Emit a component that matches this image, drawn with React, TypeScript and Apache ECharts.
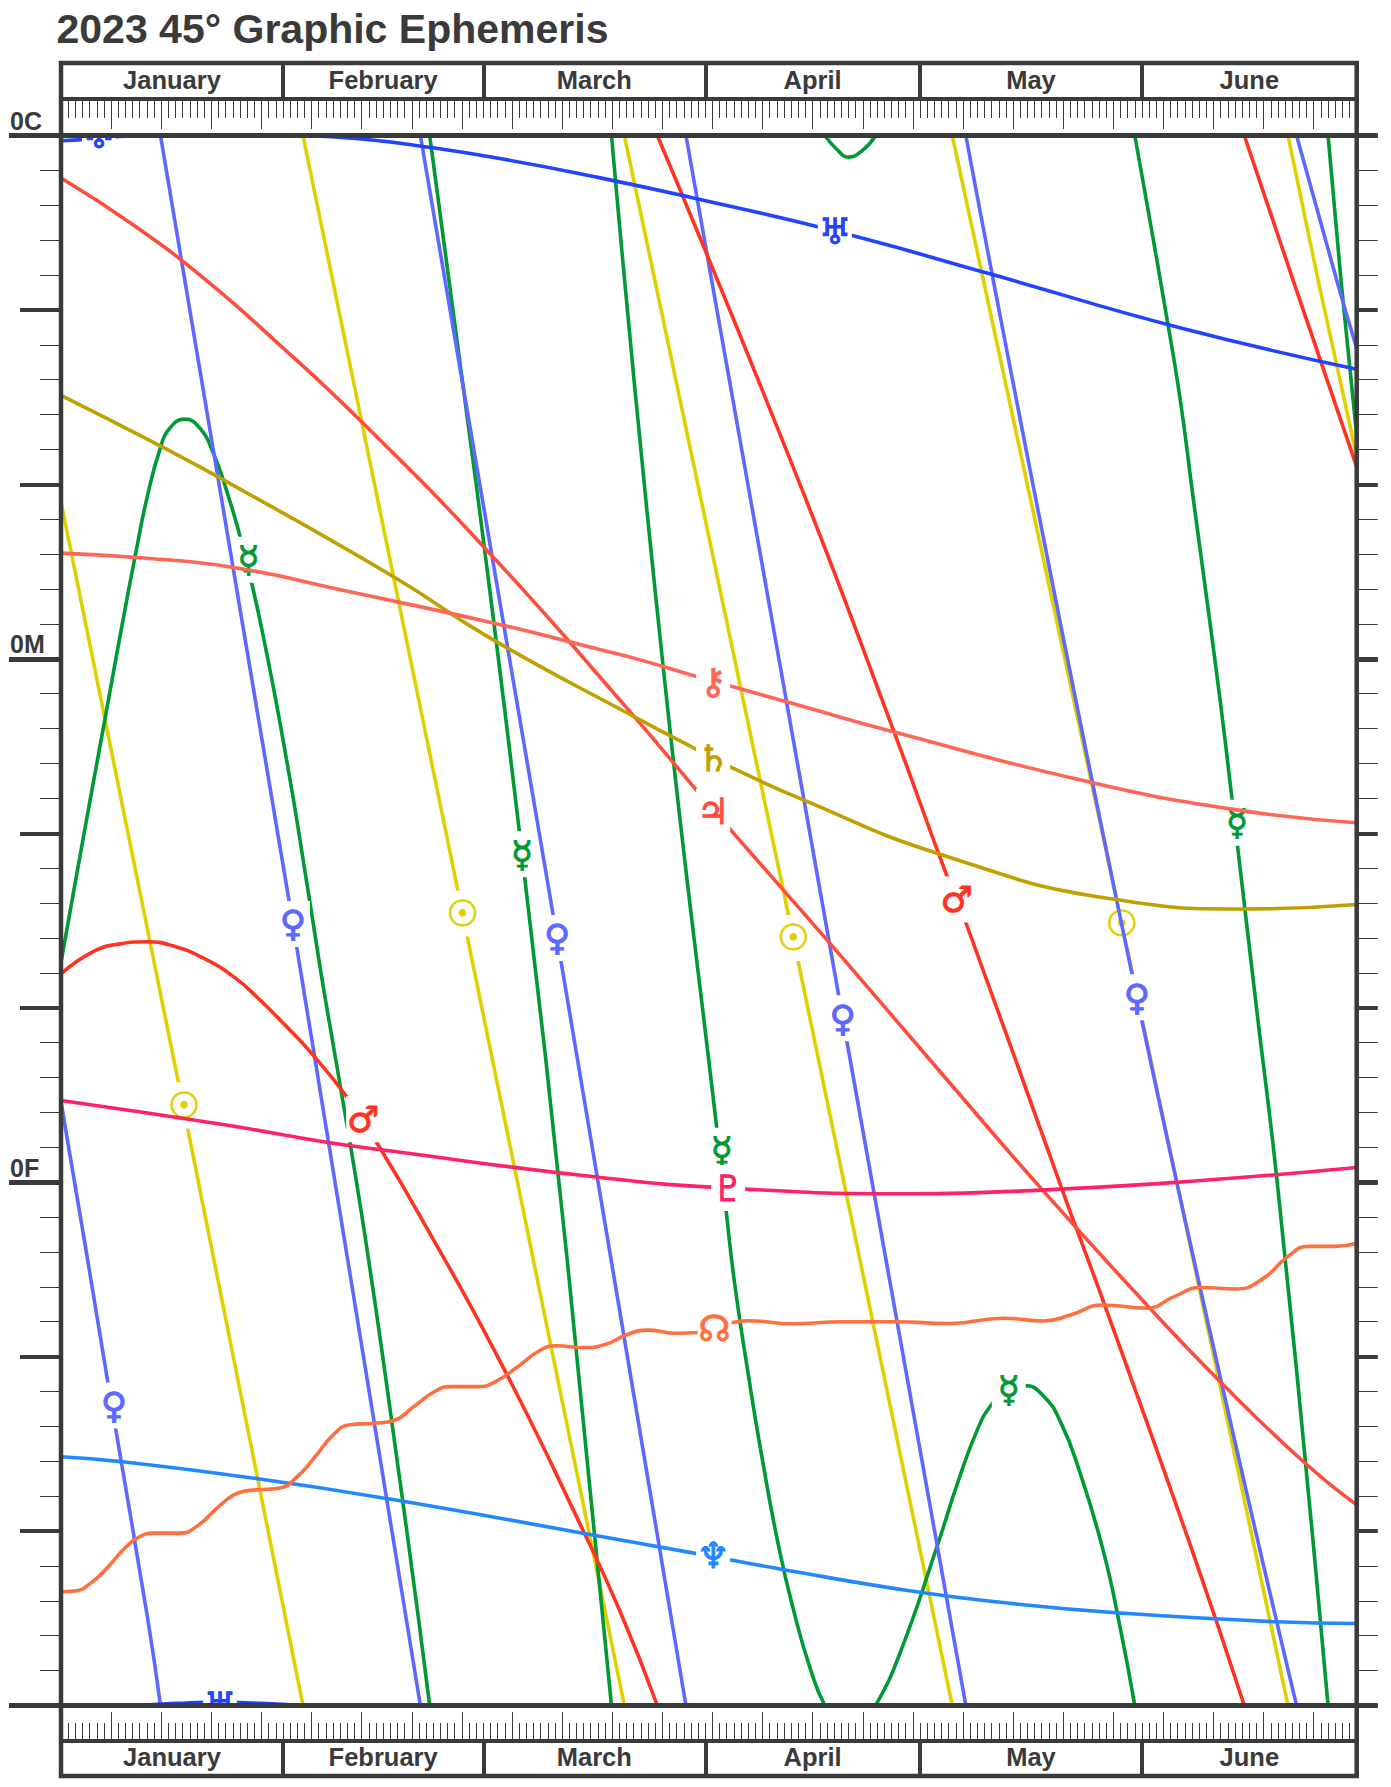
import React, { useEffect, useRef } from "react";
import * as echarts from "echarts";

const TITLE = "2023 45° Graphic Ephemeris";
const MONTHS = ["January", "February", "March", "April", "May", "June"];
const MONTH_STARTS = [0, 31, 59, 90, 120, 151, 181];
const DEGREE_LABELS: Record<number, string> = { 0: "0C", 15: "0M", 30: "0F" };

const sunLines = [
  [[0, 10.5], [17.2, 27.95], [33.8, 45]],
  [[33.8, 0], [56.1, 22.3], [78.7, 45]],
  [[78.7, 0], [102.3, 23], [124.5, 45]],
  [[124.5, 0], [148.2, 22.6], [171.4, 45]],
  [[171.4, 0], [175.6, 4.14], [181, 9.2]],
];
const sunMarks = [[17.2, 27.8], [56.1, 22.3], [102.3, 23], [148.2, 22.6]];

const mercuryLines = [
  [[0, 23.7], [2, 21.4], [4.2, 18.9], [6.3, 16.55], [8.2, 14.4], [10.6, 11.8], [12, 10.4], [13.8, 9.01], [15.2, 8.39], [17.3, 8.13], [19.4, 8.39], [21.3, 9.11], [23.1, 10.16], [25.2, 11.64], [28, 14.1], [31.6, 18], [34.4, 21.5], [36.8, 24.6], [40.4, 28.9], [43.1, 32.4], [46.3, 37], [50, 42.6], [51.5, 45]],
  [[51.5, 0], [58, 10], [64.4, 20.6], [70.7, 32.2], [76.9, 45]],
  [[76.9, 0], [84, 15], [92.2, 29.5], [92.9, 30.8], [94.1, 32.9], [96, 35.5], [97.9, 37.86], [100.3, 40.49], [102.5, 42.4], [104.6, 43.9], [106.7, 45], [108.4, 45.4], [110, 45.62], [112, 45.42], [113.8, 45], [117.2, 43.5], [122.3, 40.49], [125.4, 38.53], [128, 37.1], [129.8, 36.43], [132.4, 35.9], [134.5, 35.83], [137.3, 36.14], [139.8, 36.95], [142.3, 38.3], [145.5, 40.49], [147.8, 42.6], [150, 45]],
  [[106.7, 0], [108.4, 0.4], [110, 0.62], [112, 0.42], [113.8, 0]],
  [[150, 0], [152, 2.3], [154.2, 4.9], [156.3, 7.5], [158.1, 10.3], [160, 13.2], [161.9, 16.15], [163.6, 19.05], [167, 25], [170, 30.2], [175, 40.5], [177, 45]],
  [[177, 0], [178.8, 4.14], [181, 8.6]],
];
const mercuryMarks = [[26.2, 12.16], [64.4, 20.6], [92.3, 29.1], [132.4, 35.95], [164.3, 19.7]];

const venusLines = [
  [[0, 27.7], [3.7, 32.2], [7.08, 36.4], [12.1, 42.5], [13.9, 45]],
  [[13.9, 0], [32.4, 22.6], [50.2, 45]],
  [[50.2, 0], [69.3, 23], [87.3, 45]],
  [[87.3, 0], [109.2, 25.3], [126.4, 45]],
  [[126.4, 0], [150.3, 24.7], [172.6, 45]],
  [[172.6, 0], [178.2, 4.14], [181, 6.1]],
];
const venusMarks = [[7.4, 36.4], [32.4, 22.6], [69.3, 23], [109.2, 25.3], [150.3, 24.7]];

const marsLines = [
  [[0, 24.03], [4.5, 23.39], [8.24, 23.17], [11.97, 23.11], [15.7, 23.23], [19.9, 23.58], [24.1, 24.11], [27.8, 24.78], [31.5, 25.54], [34.8, 26.26], [39.9, 27.55], [43.9, 28.8], [50.1, 30.95], [61.5, 35.2], [72.9, 39.97], [78.5, 42.5], [83.3, 45]],
  [[83.3, 0], [102.9, 9.83], [116.2, 17], [123.9, 21.3], [126.3, 22.5], [140, 30.3], [145.7, 33.47], [157.9, 40.49], [165.3, 45]],
  [[165.3, 0], [172.1, 4.14], [181, 9.5]],
];
const marsMarks = [[42.2, 28.2], [125.1, 21.9]];

const jupiterLine = [[0, 1.22], [10, 2.55], [20, 4.1], [30, 5.9], [42.2, 8.25], [60, 12], [79, 16.4], [91, 19.3], [107.6, 23.2], [123.5, 27], [137, 30.2], [151.6, 33.5], [161.6, 35.65], [173.5, 38], [181, 39.25]];
const jupiterMarks = [[91.1, 19.38]];

const saturnLine = [[0, 7.45], [13.8, 8.89], [22.7, 9.87], [46.4, 12.64], [59.9, 14.4], [80.9, 16.75], [88.8, 17.6], [93.2, 18.07], [103.2, 19], [122.8, 20.6], [147.4, 21.9], [164.9, 22.17], [181, 22.04]];
const saturnMarks = [[91.1, 17.85]];

const uranusLines = [
  [[0, 0.15], [3.5, 0.11], [8.1, 0.03], [11, 0], [16, -0.06]],
  [[11, 45], [16, 44.94], [22, 44.9], [28, 44.94], [33.7, 45]],
  [[33.7, 0], [42, 0.1], [50.1, 0.3], [61.3, 0.66], [75, 1.2], [88.5, 1.8], [108.1, 2.74], [130, 3.98], [156.3, 5.51], [181, 6.7]],
];
const uranusMarks = [[5.3, 0], [22.2, 45], [108.1, 2.74]];

const neptuneLine = [[0, 37.87], [8.4, 38.01], [27.5, 38.5], [45.3, 39.06], [72.9, 40.06], [88.6, 40.64], [100.8, 41.1], [118.8, 41.72], [133, 42.08], [147.4, 42.34], [169.7, 42.6], [181, 42.65]];
const neptuneMarks = [[91.1, 40.7]];

const plutoLine = [[0, 27.66], [23.3, 28.37], [36.9, 28.85], [45, 29.08], [74.2, 29.84], [93.2, 30.17], [118.3, 30.33], [139.5, 30.2], [160.1, 29.94], [181, 29.58]];
const plutoMarks = [[93.2, 30.17]];

const nodeLine = [[0, 41.74], [1.9, 41.72], [4.1, 41.5], [6.6, 41.02], [9.1, 40.45], [11, 40.16], [12.9, 40.06], [16.6, 40.06], [19.2, 39.83], [22.3, 39.25], [24.8, 38.9], [27.3, 38.82], [30.5, 38.77], [33, 38.44], [35.5, 37.87], [38, 37.25], [40.2, 36.96], [43.7, 36.91], [46.5, 36.83], [49.3, 36.43], [52.2, 36], [54.4, 35.86], [58.2, 35.86], [60.7, 35.72], [63.8, 35.29], [67, 34.81], [69.2, 34.69], [73.2, 34.74], [75.8, 34.67], [79.3, 34.35], [82.1, 34.24], [86, 34.33], [88.9, 34.31], [93.8, 34.02], [96, 33.97], [102.25, 34.06], [109.1, 34], [116.65, 34], [124.2, 34.05], [131.7, 33.9], [137.3, 33.98], [141.1, 33.8], [145.5, 33.52], [151.7, 33.61], [155.5, 33.28], [159.2, 33.02], [164.2, 33.06], [168, 32.75], [171.1, 32.18], [174.3, 31.84], [178, 31.84], [181, 31.75]];
const nodeMarks = [[91.3, 34.2]];

const chironLine = [[0, 11.97], [10.1, 12.09], [24.1, 12.38], [39.2, 13.03], [59.9, 13.95], [75.8, 14.76], [80.9, 15.03], [88.8, 15.51], [93, 15.75], [103.2, 16.34], [116.4, 17.1], [142.6, 18.48], [163.3, 19.3], [181, 19.7]];
const chironMarks = [[91.1, 15.65]];

const BODIES = [
  { name: "Sun", glyph: "☉", color: "#e0d000", lines: sunLines, marks: sunMarks },
  { name: "Mercury", glyph: "☿", color: "#009933", lines: mercuryLines, marks: mercuryMarks },
  { name: "Venus", glyph: "♀", color: "#5c68ff", lines: venusLines, marks: venusMarks },
  { name: "Mars", glyph: "♂", color: "#ff3322", lines: marsLines, marks: marsMarks },
  { name: "Jupiter", glyph: "♃", color: "#ff4d3d", lines: [jupiterLine], marks: jupiterMarks },
  { name: "Saturn", glyph: "♄", color: "#c0a000", lines: [saturnLine], marks: saturnMarks },
  { name: "Uranus", glyph: "♅", color: "#2244ff", lines: uranusLines, marks: uranusMarks },
  { name: "Neptune", glyph: "♆", color: "#2288ff", lines: [neptuneLine], marks: neptuneMarks },
  { name: "Pluto", glyph: "♇", color: "#ff2266", lines: [plutoLine], marks: plutoMarks },
  { name: "Node", glyph: "☊", color: "#ff7040", lines: [nodeLine], marks: nodeMarks },
  { name: "Chiron", glyph: "⚷", color: "#ff6655", lines: [chironLine], marks: chironMarks },
];

const INK = "#3a3a3a";
const FONT = '"Liberation Sans", Arial, sans-serif';
const GLYPH_FONT = '"DejaVu Sans", sans-serif';

function monthMiddles() {
  return MONTHS.map((_, i) => (MONTH_STARTS[i] + MONTH_STARTS[i + 1]) / 2);
}

function xAxisBase(position: string, offset: number) {
  return {
    type: "value", min: 0, max: 181, position, offset, z: 100,
    axisLine: { show: false, onZero: false }, axisTick: { show: false }, axisLabel: { show: false }, splitLine: { show: false },
  };
}
function tickAxis(position: string, offset: number, interval: number, length: number, line: boolean) {
  return {
    ...xAxisBase(position, offset), interval,
    axisLine: { show: line, onZero: false, lineStyle: { color: INK, width: 4 } },
    axisTick: { show: true, inside: true, length, lineStyle: { color: INK, width: 1 } },
  };
}
function monthAxis(position: string, offset: number, length: number, margin: number) {
  return {
    ...xAxisBase(position, offset),
    axisLine: { show: true, onZero: false, lineStyle: { color: INK, width: 4 } },
    axisTick: { show: true, inside: true, length, customValues: MONTH_STARTS, lineStyle: { color: INK, width: 4 } },
    axisLabel: {
      show: true, inside: true, margin, customValues: monthMiddles(), verticalAlign: "middle",
      color: INK, fontFamily: FONT, fontWeight: "bold", fontSize: 25.5,
      formatter: (v: number) => MONTHS[monthMiddles().indexOf(v)] ?? "",
    },
  };
}
function yAxisBase(position: string, interval: number, length: number, width: number) {
  return {
    type: "value", min: 0, max: 45, inverse: true, position, interval, z: 100,
    axisLine: { show: false, onZero: false }, splitLine: { show: false }, axisLabel: { show: false },
    axisTick: { show: true, length, lineStyle: { color: INK, width } },
  };
}

export default function App() {
  const ref = useRef<HTMLDivElement>(null);
  useEffect(() => {
    const chart = echarts.init(ref.current!, undefined, { renderer: "svg" });
    const series: any[] = [];
    BODIES.forEach((b, i) => {
      b.lines.forEach((line, k) => {
        series.push({
          type: "line", name: `${b.name} ${k}`, data: line, xAxisIndex: 0, yAxisIndex: 0,
          showSymbol: false, symbol: "none", smooth: 0.5, clip: true, z: 10 + i * 2,
          lineStyle: { color: b.color, width: 3.6 }, silent: true,
        });
      });
      series.push({
        type: "custom", name: `${b.name} glyph`, coordinateSystem: "cartesian2d", xAxisIndex: 0, yAxisIndex: 0,
        data: b.marks, clip: true, z: 11 + i * 2, silent: true, encode: { x: 0, y: 1 },
        renderItem: (_p: any, api: any) => {
          const [x, y] = api.coord([api.value(0), api.value(1)]);
          return {
            type: "group", x, y,
            children: [
              { type: "rect", shape: { x: -17, y: -23, width: 34, height: 46 }, style: { fill: "#fff" } },
              { type: "text", style: { text: b.glyph, x: 0, y: 0, align: "center", verticalAlign: "middle", fill: b.color, stroke: b.color, lineWidth: 1, font: `36px ${GLYPH_FONT}` } },
            ],
          };
        },
      });
    });
    chart.setOption({
      animation: false,
      backgroundColor: "#fff",
      title: { text: TITLE, left: 56.5, top: 8, padding: 0, textStyle: { color: INK, fontFamily: FONT, fontWeight: "bold", fontSize: 41 } },
      grid: { left: 61, right: 34.3, top: 135.5, bottom: 81.5, containLabel: false },
      xAxis: [
        { ...xAxisBase("top", 0), axisLine: { show: true, onZero: false, lineStyle: { color: INK, width: 5 } } },
        { ...xAxisBase("bottom", 0), axisLine: { show: true, onZero: false, lineStyle: { color: INK, width: 5 } } },
        tickAxis("top", 36.5, 1, 19, true),
        tickAxis("top", 36.5, 7, 30, false),
        monthAxis("top", 72.5, 36, 17),
        tickAxis("bottom", 35.5, 1, 18, true),
        tickAxis("bottom", 35.5, 7, 29, false),
        monthAxis("bottom", 70.5, 35, 19),
      ],
      yAxis: [
        yAxisBase("left", 1, 21, 1),
        yAxisBase("left", 5, 41, 4),
        {
          ...yAxisBase("left", 15, 52, 5),
          axisLabel: {
            show: true, margin: 51, align: "left", verticalAlign: "bottom", padding: [0, 0, 2, 0],
            color: INK, fontFamily: FONT, fontWeight: "bold", fontSize: 25,
            formatter: (v: number) => DEGREE_LABELS[v] ?? "",
          },
        },
        yAxisBase("right", 1, 21, 1),
        yAxisBase("right", 5, 21, 4),
        yAxisBase("right", 15, 21, 5),
      ],
      graphic: [
        { type: "rect", z: 200, shape: { x: 61, y: 63, width: 1295.7, height: 1713 }, style: { fill: "none", stroke: INK, lineWidth: 4.5 } },
      ],
      series,
    });
    return () => chart.dispose();
  }, []);
  return <div ref={ref} style={{ position: "absolute", left: 0, top: 0, width: 1391, height: 1787 }} />;
}
